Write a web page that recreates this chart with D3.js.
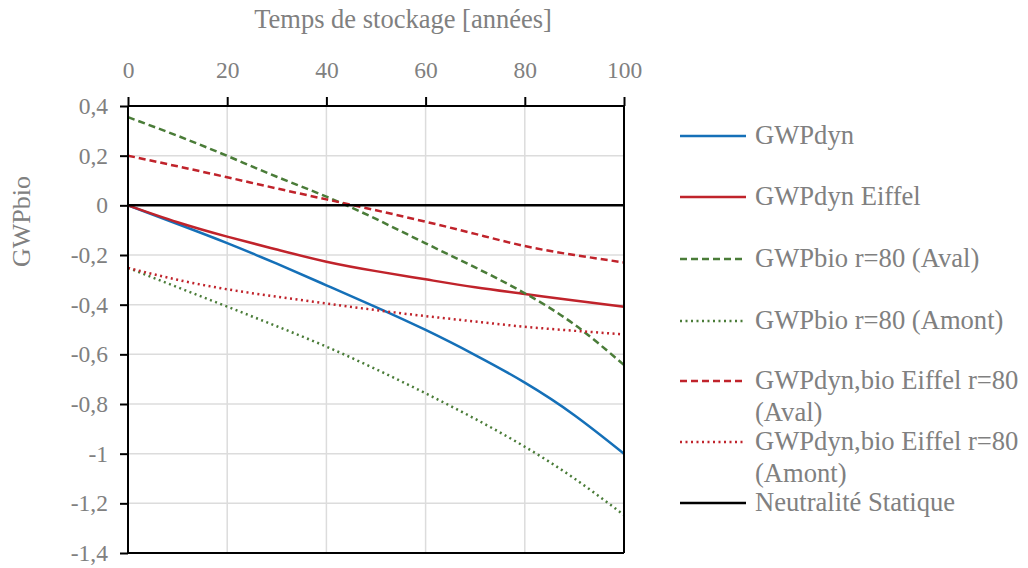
<!DOCTYPE html>
<html>
<head>
<meta charset="utf-8">
<script src="https://cdn.jsdelivr.net/npm/d3@7"></script>
<style>
  html, body { margin: 0; padding: 0; background: #fff; }
  svg text { font-family: "Liberation Serif", "DejaVu Serif", "Noto Serif", serif !important; }
</style>
</head>
<body>
<svg id="chart" width="1028" height="568"></svg>
<script>
const years = [0, 10, 20, 30, 40, 50, 60, 70, 80, 90, 100];
const gwpDyn = [0, -0.075, -0.152, -0.235, -0.322, -0.41, -0.502, -0.603, -0.714, -0.845, -1.0];
const gwpDynEiffel = [0, -0.068, -0.126, -0.178, -0.227, -0.265, -0.298, -0.33, -0.357, -0.383, -0.408];
const gwpBioAval = [0.355, 0.28, 0.199, 0.115, 0.035, -0.055, -0.153, -0.25, -0.354, -0.48, -0.643];
const gwpBioAmont = [-0.252, -0.33, -0.408, -0.487, -0.569, -0.66, -0.757, -0.86, -0.972, -1.1, -1.247];
const gwpDynBioEiffelAval = [0.2, 0.157, 0.113, 0.068, 0.024, -0.02, -0.066, -0.115, -0.164, -0.2, -0.23];
const gwpDynBioEiffelAmont = [-0.252, -0.3, -0.338, -0.368, -0.395, -0.422, -0.446, -0.468, -0.489, -0.505, -0.52];
const neutralite = [0, 0, 0, 0, 0, 0, 0, 0, 0, 0, 0];

const xTicks = [0, 20, 40, 60, 80, 100];
const yTicks = [0.4, 0.2, 0, -0.2, -0.4, -0.6, -0.8, -1, -1.2, -1.4];
const seriesNames = ["GWPdyn", "GWPdyn Eiffel", "GWPbio r=80 (Aval)", "GWPbio r=80 (Amont)",
  "GWPdyn,bio Eiffel r=80 (Aval)", "GWPdyn,bio Eiffel r=80 (Amont)", "Neutralité Statique"];
const xTitle = "Temps de stockage [années]";
const yTitle = "GWPbio";

const BLUE = "#1570b8", RED = "#c0232b", GREEN = "#4a7c38", BLACK = "#000";
const TXT = "#808080";

const series = [
  { name: seriesNames[0], values: gwpDyn, color: BLUE, dash: null },
  { name: seriesNames[1], values: gwpDynEiffel, color: RED, dash: null },
  { name: seriesNames[2], values: gwpBioAval, color: GREEN, dash: "7,4" },
  { name: seriesNames[3], values: gwpBioAmont, color: GREEN, dash: "2,3.5" },
  { name: seriesNames[4], values: gwpDynBioEiffelAval, color: RED, dash: "7,4" },
  { name: seriesNames[5], values: gwpDynBioEiffelAmont, color: RED, dash: "2,3.5" },
  { name: seriesNames[6], values: neutralite, color: BLACK, dash: null }
];

const svg = d3.select("#chart");
const L = 128, R = 624, T = 106, B = 553;
const x = d3.scaleLinear().domain([0, 100]).range([L, R]);
const y = d3.scaleLinear().domain([-1.4, 0.4]).range([B, T]);

// grid
const grid = svg.append("g");
grid.selectAll("line.v").data(xTicks.filter(d => d > 0 && d < 100)).join("line")
  .attr("x1", d => x(d)).attr("x2", d => x(d)).attr("y1", T).attr("y2", B)
  .attr("stroke", "#dcdcdc").attr("stroke-width", 1.5);
grid.selectAll("line.h").data(yTicks.filter(d => d < 0.39 && d > -1.39)).join("line")
  .attr("x1", L).attr("x2", R).attr("y1", d => y(d)).attr("y2", d => y(d))
  .attr("stroke", "#dcdcdc").attr("stroke-width", 1.5);

// series lines
const line = d3.line().x((d, i) => x(years[i])).y(d => y(d)).curve(d3.curveNatural);
svg.append("g").selectAll("path").data(series).join("path")
  .attr("d", s => line(s.values))
  .attr("fill", "none")
  .attr("stroke", s => s.color)
  .attr("stroke-width", 2.5)
  .attr("stroke-dasharray", s => s.dash);

// border lines (right, bottom)
svg.append("line").attr("x1", R).attr("x2", R).attr("y1", T).attr("y2", B)
  .attr("stroke", BLACK).attr("stroke-width", 2);
svg.append("line").attr("x1", L).attr("x2", R).attr("y1", B).attr("y2", B)
  .attr("stroke", BLACK).attr("stroke-width", 2);

// top x axis
const xAxis = d3.axisTop(x).tickValues(xTicks).tickSize(9).tickPadding(19).tickFormat(d3.format("d"));
const gx = svg.append("g").attr("transform", `translate(0,${T})`).call(xAxis).attr("font-family", null);
gx.select(".domain").attr("stroke", BLACK).attr("stroke-width", 2).attr("d", `M${L},0H${R}`);
gx.selectAll(".tick line").attr("stroke", BLACK).attr("stroke-width", 2);
gx.selectAll(".tick text").attr("fill", TXT).style("font-size", "23.5px");

// left y axis
const yAxis = d3.axisLeft(y).tickValues(yTicks).tickSize(8).tickPadding(12)
  .tickFormat(d => (Math.round(d * 10) / 10).toString().replace(".", ","));
const gy = svg.append("g").attr("transform", `translate(${L},0)`).call(yAxis).attr("font-family", null);
gy.select(".domain").attr("stroke", BLACK).attr("stroke-width", 2).attr("d", `M0,${T}V${B}`);
gy.selectAll(".tick line").attr("stroke", BLACK).attr("stroke-width", 2);
gy.selectAll(".tick text").attr("fill", TXT).style("font-size", "23.5px");

// titles
svg.append("text").attr("x", (L + R) / 2 + 27).attr("y", 28).attr("text-anchor", "middle")
  .attr("fill", TXT).style("font-size", "26.5px").text(xTitle);
svg.append("text").attr("transform", `translate(30,${(T + B) / 2 - 108}) rotate(-90)`)
  .attr("text-anchor", "middle").attr("fill", TXT).style("font-size", "26px").text(yTitle);

// legend
const legRows = [
  { y: 136, lines: ["GWPdyn"] },
  { y: 197, lines: ["GWPdyn Eiffel"] },
  { y: 259, lines: ["GWPbio r=80 (Aval)"] },
  { y: 321, lines: ["GWPbio r=80 (Amont)"] },
  { y: 381, lines: ["GWPdyn,bio Eiffel r=80", "(Aval)"] },
  { y: 442, lines: ["GWPdyn,bio Eiffel r=80", "(Amont)"] },
  { y: 503, lines: ["Neutralité Statique"] }
];
const leg = svg.append("g");
series.forEach((s, i) => {
  const r = legRows[i];
  leg.append("line").attr("x1", 680).attr("x2", 746).attr("y1", r.y).attr("y2", r.y)
    .attr("stroke", s.color).attr("stroke-width", 2.5).attr("stroke-dasharray", s.dash);
  r.lines.forEach((t, j) => {
    leg.append("text").attr("x", 755).attr("y", r.y + 8 + j * 32)
      .attr("fill", TXT).style("font-size", "26.6px").text(t);
  });
});
</script>
</body>
</html>
